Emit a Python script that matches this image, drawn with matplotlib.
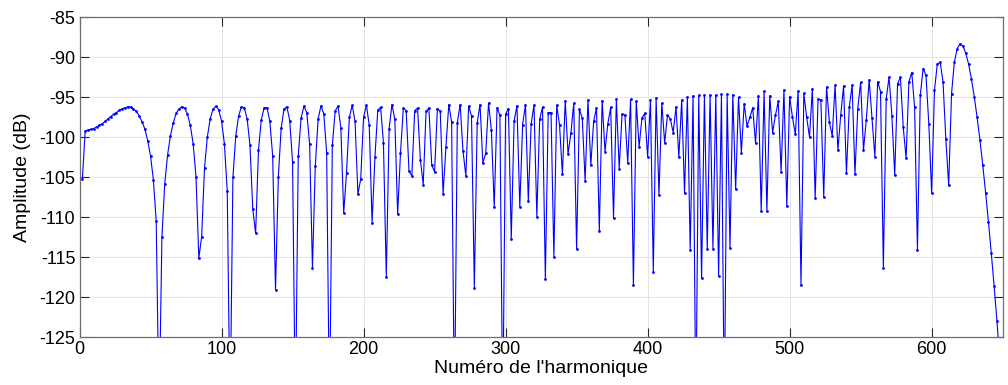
import numpy as np
import matplotlib
matplotlib.use("Agg")
import matplotlib.pyplot as plt

# Harmonic numbers (even harmonics 2..648)
harmonics = list(range(2, 650, 2))

# Amplitude in dB
amplitude_db = [
    -105.2, -99.2, -99.1, -99.0, -98.9, -98.7, -98.5, -98.3, -98.0, -97.7,
    -97.4, -97.1, -96.9, -96.6, -96.45, -96.3, -96.2, -96.2, -96.46, -96.75,
    -97.33, -98.04, -98.96, -100.42, -102.33, -105.33, -110.5, -135, -112.5, -105.8,
    -102.2, -99.8, -98.2, -97.0, -96.46, -96.17, -96.33, -97.1, -98.5, -100.8,
    -104.9, -115.1, -112.4, -103.8, -99.96, -97.67, -96.5, -96.1, -96.54, -97.96,
    -100.8, -106.7, -135, -105.0, -99.83, -97.33, -96.2, -96.3, -97.67, -100.96,
    -109.0, -112.0, -101.6, -97.8, -96.3, -96.3, -98.0, -102.33, -119.1, -104.9,
    -98.8, -96.46, -96.17, -97.9, -103.1, -135, -102.33, -97.6, -96.1, -96.9,
    -100.8, -116.3, -103.6, -97.7, -96.04, -97.1, -101.9, -135, -101.0, -96.7,
    -96.1, -98.8, -109.5, -104.4, -97.5, -96.0, -98.0, -107.1, -105.2, -97.5,
    -95.96, -98.5, -110.7, -102.5, -96.6, -96.25, -100.7, -117.5, -98.9, -95.9,
    -97.75, -109.6, -101.96, -96.33, -96.67, -104.25, -104.8, -96.7, -96.33, -102.8,
    -105.9, -96.75, -96.33, -103.5, -104.3, -96.4, -96.75, -107.1, -101.2, -95.9,
    -98.1, -135, -98.2, -95.9, -101.7, -104.8, -96.1, -97.3, -118.8, -98.2,
    -95.9, -103.2, -102.0, -95.7, -99.1, -108.75, -96.3, -97.25, -135, -97.1,
    -96.4, -112.7, -97.96, -96.04, -108.7, -98.4, -95.9, -108.0, -98.3, -95.96,
    -109.9, -97.75, -96.2, -117.75, -96.9, -96.9, -115.0, -95.96, -98.5, -104.6,
    -95.4, -102.1, -99.46, -95.7, -113.96, -96.5, -97.6, -105.5, -95.33, -103.5,
    -98.0, -96.33, -111.75, -95.4, -101.8, -98.3, -96.25, -110.1, -95.25, -103.9,
    -97.1, -97.2, -103.2, -95.25, -118.5, -95.46, -101.2, -97.6, -97.0, -102.4,
    -95.3, -116.8, -95.04, -107.2, -95.7, -100.7, -97.2, -97.7, -99.4, -96.2,
    -102.5, -95.33, -107.0, -94.96, -114.1, -94.8, -135, -94.75, -117.6, -94.75,
    -114.0, -94.75, -113.9, -94.7, -117.3, -94.6, -135, -94.6, -113.8, -94.7,
    -106.5, -95.0, -101.9, -95.8, -98.6, -97.5, -96.3, -100.7, -94.8, -109.2,
    -94.25, -109.2, -94.8, -99.4, -97.25, -95.5, -104.3, -94.1, -108.6, -94.9,
    -97.5, -99.6, -94.2, -118.5, -94.5, -97.5, -99.96, -93.9, -107.6, -95.25,
    -95.3, -107.5, -93.7, -98.1, -99.8, -93.46, -101.6, -97.2, -93.54, -104.5,
    -96.25, -93.46, -104.6, -96.4, -93.1, -101.6, -97.8, -92.8, -97.6, -102.4,
    -93.04, -94.3, -116.3, -95.2, -92.46, -97.3, -104.7, -93.3, -92.5, -98.75,
    -102.6, -93.04, -91.9, -96.25, -114.1, -94.7, -91.4, -92.25, -98.3, -106.96,
    -94.1, -90.83, -90.6, -93.04, -100.25, -106.0, -94.54, -90.6, -88.9, -88.3,
    -88.6, -89.46, -90.83, -92.7, -94.9, -97.5, -100.33, -103.5, -106.9, -110.6,
    -114.5, -118.6, -123.0, -128.0,
]

x_ticks = [0, 100, 200, 300, 400, 500, 600]
y_ticks = [-125, -120, -115, -110, -105, -100, -95, -90, -85]

plt.rcParams['font.family'] = ['Liberation Sans', 'DejaVu Sans']
plt.rcParams['axes.unicode_minus'] = False

fig = plt.figure(figsize=(10.08, 3.85), dpi=100)
ax = fig.add_axes([0.0789, 0.1239, 0.9158, 0.8311])

ax.plot(harmonics, amplitude_db, color='#0000ff', linewidth=0.8,
        marker='.', markersize=4, markeredgewidth=0)

ax.set_xlim(0, 650)
ax.set_ylim(-125, -85)
ax.set_xticks(x_ticks)
ax.set_yticks(y_ticks)
ax.grid(True, color='#e3e3e3', linewidth=0.7, linestyle='-')
ax.set_axisbelow(True)
ax.tick_params(direction='in', length=6.5, width=0.8, top=True, right=True,
               labelsize=13, color='#262626', pad=3)
for s in ax.spines.values():
    s.set_color('#6e6e6e')
    s.set_linewidth(0.9)

ax.set_xlabel("Numéro de l'harmonique", fontsize=14, labelpad=1)
ax.set_ylabel("Amplitude (dB)", fontsize=14, labelpad=6)

fig.savefig('out.png', dpi=100)
